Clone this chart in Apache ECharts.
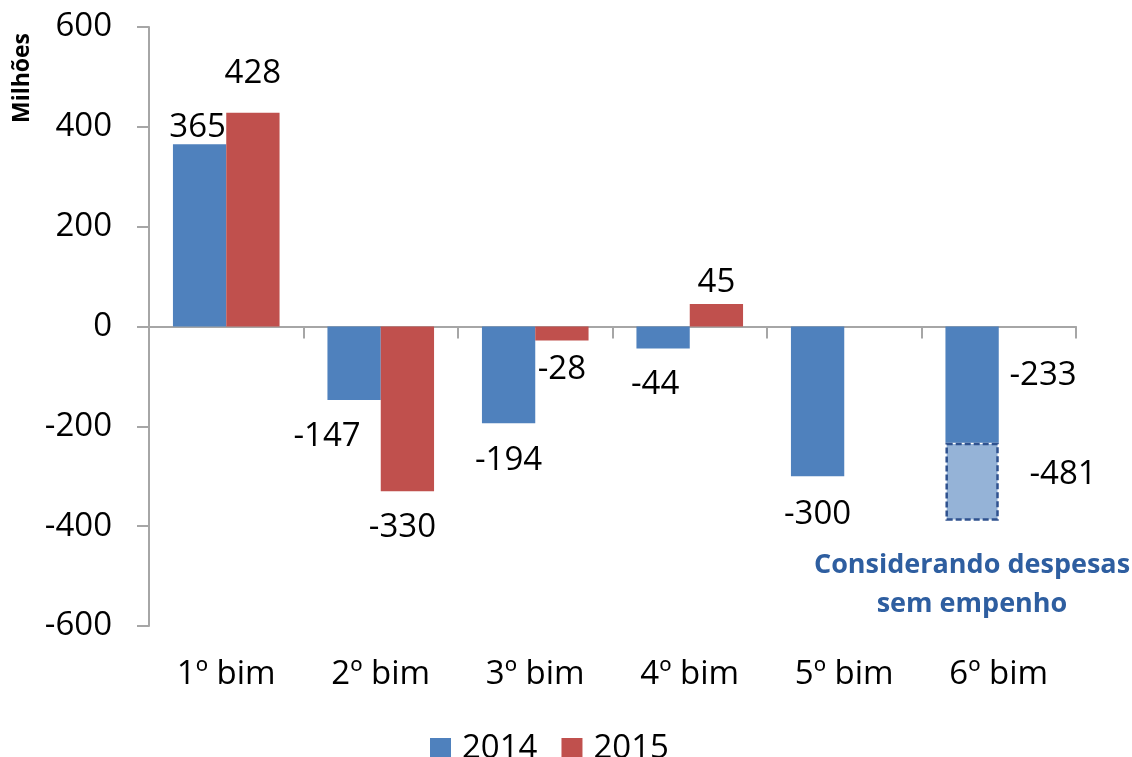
<!DOCTYPE html>
<html>
<head>
<meta charset="utf-8">
<script src="https://cdn.jsdelivr.net/npm/echarts@6/dist/echarts.min.js"></script>
<style>html,body{margin:0;padding:0;background:#fff}#c{width:1132px;height:757px}</style>
</head>
<body>
<div id="c"></div>
<script>
var categories = ['1º bim', '2º bim', '3º bim', '4º bim', '5º bim', '6º bim'];
var values2014 = [365, -147, -194, -44, -300, -233];
var values2015 = [428, -330, -28, 45, null, null];
var extra2014 = [null, null, null, null, null, -156];
var extraLabelText = '-481';
var yTicks = {min: -600, max: 600, interval: 200};
var legendNames = ['2014', '2015'];
var noteLines = ['Considerando despesas', 'sem empenho'];

var FONT = 'Open Sans';
var FS = 33;

// label offsets (styling only)
var off2014 = [[-2, 0], [-27, 20], [0, 21], [-8, 20], [0, 22], [71, -84]];
var off2015 = [[0, -23], [-5, 20], [0, 13], [0, -5], [0, 0], [0, 0]];

function mk(vals, offs) {
  return vals.map(function (v, i) {
    if (v === null) return null;
    return {
      value: v,
      label: {position: v >= 0 ? 'top' : 'bottom', distance: 0, offset: offs[i]}
    };
  });
}

var extraData = extra2014.map(function (v) {
  if (v === null) return null;
  return {
    value: v,
    label: {show: true, position: 'bottom', distance: 0, offset: [91, -63],
      formatter: function () { return extraLabelText; }}
  };
});

var chart = echarts.init(document.getElementById('c'));
chart.setOption({
  animation: false,
  grid: {left: 149, right: 56, top: 27, bottom: 131},
  textStyle: {fontFamily: FONT},
  legend: {
    data: legendNames, left: 425, top: 727, icon: 'rect',
    itemWidth: 21, itemHeight: 21, itemGap: 24,
    textStyle: {fontFamily: FONT, fontSize: FS, color: '#000', padding: [0, 0, 0, 6]}
  },
  xAxis: [{
    type: 'category', data: categories, position: 'bottom',
    axisLine: {onZero: true, lineStyle: {color: '#A6A6A6', width: 2}},
    axisTick: {show: true, length: 12, lineStyle: {color: '#A6A6A6', width: 2}},
    axisLabel: {show: false}, splitLine: {show: false}
  }, {
    type: 'category', data: categories, position: 'bottom',
    axisLine: {show: false, onZero: false}, axisTick: {show: false},
    axisLabel: {show: true, margin: 32, fontFamily: FONT, fontSize: FS, color: '#000'},
    splitLine: {show: false}
  }],
  yAxis: {
    type: 'value', min: yTicks.min, max: yTicks.max, interval: yTicks.interval,
    axisLine: {show: true, lineStyle: {color: '#A6A6A6', width: 2}},
    axisTick: {show: true, length: 12, lineStyle: {color: '#A6A6A6', width: 2}},
    axisLabel: {margin: 37, fontFamily: FONT, fontSize: FS, color: '#000'},
    splitLine: {show: false}
  },
  graphic: [{
    type: 'text', x: 22, y: 78, rotation: Math.PI / 2,
    style: {text: 'Milhões', fontFamily: FONT, fontSize: 23, fontWeight: 'bold', fill: '#000',
      align: 'center', verticalAlign: 'middle'}
  }, {
    type: 'text', x: 972, y: 565,
    style: {text: noteLines[0], fontFamily: FONT, fontSize: 27, fontWeight: 'bold', fill: '#2E5EA0',
      align: 'center', verticalAlign: 'middle'}
  }, {
    type: 'text', x: 972, y: 604,
    style: {text: noteLines[1], fontFamily: FONT, fontSize: 27, fontWeight: 'bold', fill: '#2E5EA0',
      align: 'center', verticalAlign: 'middle'}
  }],
  series: [{
    name: '2014', type: 'bar', stack: 'a', xAxisIndex: 0,
    barGap: '0%', barCategoryGap: '31%',
    itemStyle: {color: '#4F81BD'},
    label: {show: true, fontFamily: FONT, fontSize: FS, color: '#000'},
    data: mk(values2014, off2014)
  }, {
    name: 'extra', type: 'bar', stack: 'a', xAxisIndex: 0,
    itemStyle: {color: '#95B3D7', borderColor: '#2F528F', borderWidth: 2.5, borderType: [6, 3]},
    label: {show: true, fontFamily: FONT, fontSize: FS, color: '#000'},
    data: extraData
  }, {
    name: '2015', type: 'bar', xAxisIndex: 0,
    barGap: '0%', barCategoryGap: '31%',
    itemStyle: {color: '#C0504D'},
    label: {show: true, fontFamily: FONT, fontSize: FS, color: '#000'},
    data: mk(values2015, off2015)
  }]
});
</script>
</body>
</html>
